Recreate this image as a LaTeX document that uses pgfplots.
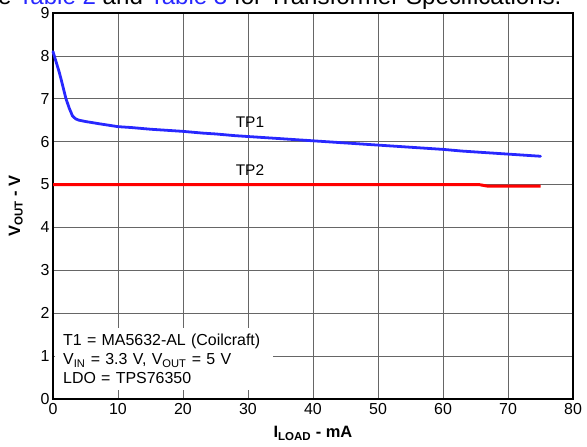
\documentclass[border=0pt]{standalone}
\usepackage{fontspec}
\setmainfont{Liberation Sans}
\usepackage{pgfplots}
\pgfplotsset{compat=1.18}
\definecolor{tiblue}{RGB}{40,40,255}
\begin{document}
\begin{tikzpicture}[x=1bp,y=1bp]
\clip (-53bp,-48bp) rectangle (534bp,399bp);
\node[anchor=base west,inner sep=0pt,font=\fontsize{24.2}{28}\selectfont] at (-55bp,394.5bp)
  {e \textcolor{tiblue}{Table 2} and \textcolor{tiblue}{Table 3} for Transformer Specifications.};
\begin{axis}[
  at={(0,0)}, anchor=south west,
  scale only axis, width=520bp, height=386bp,
  xmin=0, xmax=80, ymin=0, ymax=9,
  xtick={0,10,...,80}, ytick={0,1,...,9},
  grid=major,
  major grid style={gray!80!black, line width=0.6pt},
  axis line style={black, line width=1.6pt},
  tick style={draw=none},
  /pgf/number format/assume math mode=true,
  ticklabel style={font=\fontsize{16}{18}\selectfont},
  xticklabel style={yshift=-1pt},
  yticklabel style={xshift=0pt},
  xlabel={\bfseries I\textsubscript{LOAD} - mA},
  ylabel={\bfseries V\textsubscript{OUT} - V},
  label style={font=\fontsize{16.5}{18}\selectfont},
  xlabel style={yshift=-5pt},
  ylabel style={yshift=11pt},
  clip=false,
]
\addplot[tiblue, line width=2.8pt, line join=round, line cap=round] coordinates {
(0,8.1) (0.5,7.85) (1,7.6) (1.5,7.3) (2,7.0) (2.5,6.78) (3,6.6) (3.5,6.53) (4,6.5)
(5,6.47) (7,6.42) (10,6.35) (12,6.33) (15,6.29) (18,6.26) (20,6.24) (23,6.2) (25,6.18)
(28,6.14) (30,6.12) (33,6.09) (35,6.07) (38,6.04) (40,6.02) (43,5.99) (45,5.97)
(48,5.94) (50,5.92) (53,5.89) (55,5.87) (58,5.84) (60,5.82) (63,5.78) (65,5.76)
(68,5.73) (70,5.71) (73,5.68) (75,5.66)
};
\addplot[red, line width=3pt] coordinates {
(0,5.0) (10,5.0) (20,5.0) (30,5.0) (40,5.0) (50,5.0) (60,5.0) (65.5,5.0) (66.8,4.965) (70,4.965) (75,4.965)
};
\node[anchor=base, font=\fontsize{15.5}{18}\selectfont] at (axis cs:30.3,6.34) {TP1};
\node[anchor=base, font=\fontsize{15.5}{18}\selectfont] at (axis cs:30.3,5.2) {TP2};
\node[anchor=north west, fill=white, inner xsep=8bp, inner ysep=5bp, align=left,
  text width=202bp, minimum height=62bp,
  font=\fontsize{16}{19}\selectfont] at (axis cs:0.3,1.66)
  {T1 = MA5632-AL (Coilcraft)\\V\textsubscript{IN} = 3.3 V, V\textsubscript{OUT} = 5 V\\LDO = TPS76350};
\end{axis}
\end{tikzpicture}
\end{document}
